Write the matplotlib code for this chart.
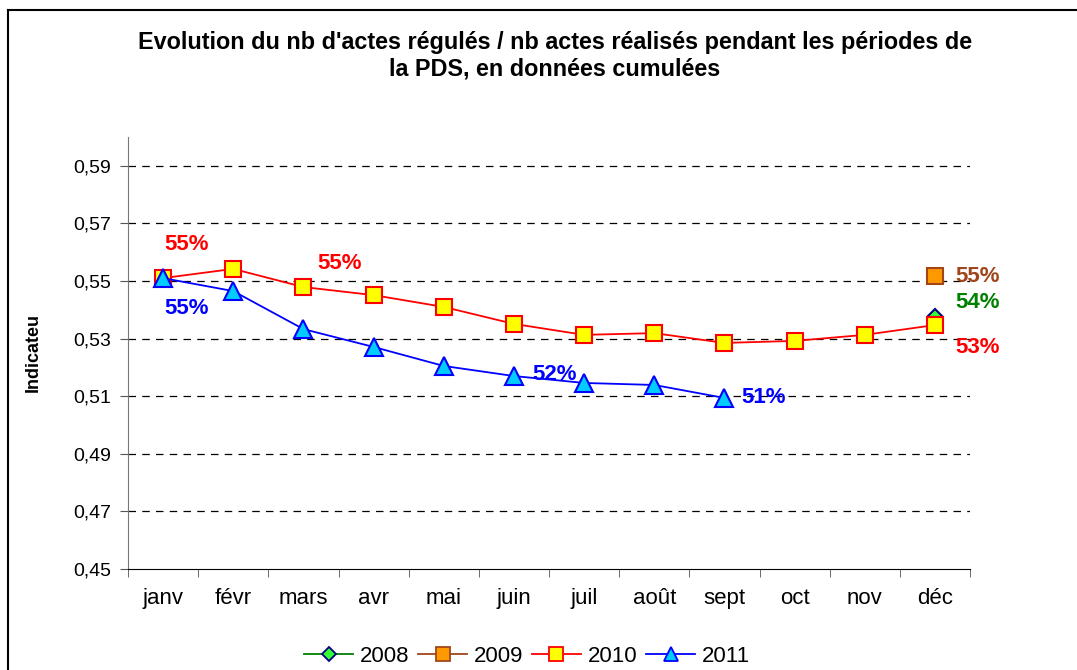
import matplotlib.pyplot as plt
from matplotlib.ticker import FixedLocator, FuncFormatter
from matplotlib.lines import Line2D

plt.rcParams['font.family'] = ['Liberation Sans', 'DejaVu Sans']

months = ['janv', 'févr', 'mars', 'avr', 'mai', 'juin', 'juil', 'août', 'sept', 'oct', 'nov', 'déc']
vals_2008 = [None] * 11 + [0.5378]
vals_2009 = [None] * 11 + [0.5517]
vals_2010 = [0.5510, 0.5542, 0.5479, 0.5451, 0.5410, 0.5351, 0.5313, 0.5319, 0.5285, 0.5292, 0.5313, 0.5347]
vals_2011 = [0.5510, 0.5465, 0.5333, 0.5271, 0.5205, 0.5170, 0.5146, 0.5139, 0.5094]
y_ticks = [0.45, 0.47, 0.49, 0.51, 0.53, 0.55, 0.57, 0.59]

fig = plt.figure(figsize=(10.77, 6.70), dpi=100)
ax = fig.add_axes([128 / 1077, 1 - 569 / 670, (970 - 128) / 1077, (569 - 137) / 670])

x = list(range(len(months)))

def pts(vals):
    xs = [i for i, v in enumerate(vals) if v is not None]
    return xs, [vals[i] for i in xs]

series = [
    ('2008', vals_2008, 'green', 'D', '#33ff33', 'navy', 7),
    ('2009', vals_2009, '#a0461a', 's', '#ff9900', '#a0461a', 11),
    ('2010', vals_2010, 'red', 's', 'yellow', 'red', 11),
    ('2011', vals_2011, 'blue', '^', '#00ccff', 'blue', 13),
]
for name, vals, col, mk, fc, ec, ms in series:
    xs, ys = pts(vals)
    ax.plot(xs, ys, color=col, lw=1.3, marker=mk, markersize=ms,
            markerfacecolor=fc, markeredgecolor=ec, markeredgewidth=1.5,
            label=name, zorder=3)

ax.set_xlim(-0.5, 11.5)
ax.set_ylim(0.45, 0.60)
ax.yaxis.set_major_locator(FixedLocator(y_ticks))
ax.yaxis.set_major_formatter(FuncFormatter(lambda v, p: f'{v:.2f}'.replace('.', ',')))
for t in y_ticks[1:]:
    ax.axhline(t, color='black', lw=0.9, ls=(0, (6, 5)), zorder=1)

ax.set_xticks(x)
ax.set_xticklabels(months)
ax.set_xticks([i + 0.5 for i in range(-1, 12)], minor=True)
ax.tick_params(axis='x', which='major', length=0, pad=14, labelsize=16)
ax.tick_params(axis='x', which='minor', length=6, direction='out', color='#555555')
ax.tick_params(axis='y', length=6, direction='out', color='#555555', labelsize=14, pad=6)

for s in ['top', 'right']:
    ax.spines[s].set_visible(False)
ax.spines['left'].set_color('#777777')
ax.spines['bottom'].set_color('black')

ax.set_ylabel('Indicateu', fontsize=13, fontweight='bold', labelpad=23)

# data labels
labels = [
    (0, vals_2010[0], '55%', 'red', (1, 24)),
    (2, vals_2010[2], '55%', 'red', (10, 17)),
    (11, vals_2010[11], '53%', 'red', (15, -16)),
    (0, vals_2011[0], '55%', 'blue', (1, -22)),
    (5, vals_2011[5], '52%', 'blue', (13, 1)),
    (8, vals_2011[8], '51%', 'blue', (12, 0)),
    (11, vals_2009[11], '55%', '#a0461a', (15, 0)),
    (11, vals_2008[11], '54%', 'green', (15, 10)),
]
for xi, yv, txt, col, off in labels:
    ax.annotate(txt, (xi, yv), xytext=off, textcoords='offset points',
                color=col, fontsize=16, fontweight='bold', ha='left', va='center')

fig.text(555 / 1077, 1 - 56 / 670,
         "Evolution du nb d'actes régulés / nb actes réalisés pendant les périodes de\nla PDS, en données cumulées",
         ha='center', va='center', fontsize=16.8, fontweight='bold', linespacing=1.2)

handles = [Line2D([], [], color=c, lw=1.3, marker=m, markersize=min(ms, 10),
                  markerfacecolor=fc, markeredgecolor=ec, markeredgewidth=1.3)
           for _, _, c, m, fc, ec, ms in series]
fig.legend(handles, [s[0] for s in series], loc='center', bbox_to_anchor=(527 / 1077, 1 - 656 / 670),
           ncol=4, frameon=False, fontsize=16, handlelength=2.2, columnspacing=0.4, handletextpad=0.3)

# outer chart frame
fig.add_artist(Line2D([8 / 1077, 8 / 1077], [0, 1 - 10 / 670], color='black', lw=1.5,
                      transform=fig.transFigure))
fig.add_artist(Line2D([8 / 1077, 1], [1 - 10 / 670, 1 - 10 / 670], color='black', lw=1.5,
                      transform=fig.transFigure))

fig.savefig('out.png', dpi=100)
